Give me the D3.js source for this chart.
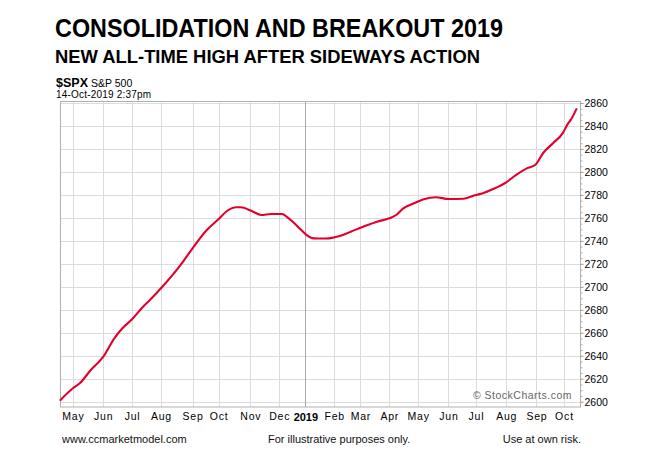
<!DOCTYPE html>
<html><head><meta charset="utf-8">
<script src="https://cdn.jsdelivr.net/npm/d3@7"></script>
<style>
html,body{margin:0;padding:0;background:#fff;}
svg{display:block;}
text{font-family:"Liberation Sans",Arial,sans-serif;}
</style></head>
<body>
<svg id="chart" width="668" height="459"></svg>
<script>
// ---- data ----
const title = "CONSOLIDATION AND BREAKOUT 2019";
const subtitle = "NEW ALL-TIME HIGH AFTER SIDEWAYS ACTION";
const symbol = "$SPX";
const symbolName = "S&P 500";
const stamp = "14-Oct-2019 2:37pm";
const footerLeft = "www.ccmarketmodel.com";
const footerMid = "For illustrative purposes only.";
const footerRight = "Use at own risk.";
const watermark = "\u00A9 StockCharts.com";

const holidays = ["2018-05-28","2018-07-04","2018-09-03","2018-11-22","2018-12-05","2018-12-25",
  "2019-01-01","2019-01-21","2019-02-18","2019-04-19","2019-05-27","2019-07-04","2019-09-02"];
const rangeStart = "2018-04-18", rangeEnd = "2019-10-17";

const dates = ["2018-04-18","2018-05-01","2018-05-08","2018-05-18","2018-06-01","2018-06-13","2018-06-21",
  "2018-07-02","2018-07-13","2018-07-20","2018-08-01","2018-08-23","2018-09-04","2018-09-18","2018-10-01",
  "2018-10-09","2018-10-18","2018-10-23","2018-11-02","2018-11-13","2018-11-23","2018-12-06","2018-12-12",
  "2018-12-19","2018-12-27","2019-01-03","2019-01-10","2019-01-24","2019-02-07","2019-02-20","2019-03-05",
  "2019-03-19","2019-04-01","2019-04-08","2019-04-15","2019-04-26","2019-05-07","2019-05-20","2019-06-03",
  "2019-06-18","2019-07-01","2019-07-09","2019-07-18","2019-08-01","2019-08-12","2019-08-22","2019-08-30",
  "2019-09-10","2019-09-19","2019-09-30","2019-10-04","2019-10-08","2019-10-14"];
const values = [2601.5,2611.7,2616,2627.6,2639,2655,2664,
  2671.7,2682.7,2688.5,2698.7,2721.8,2733.5,2749,2759,
  2766,2769.2,2769.2,2766,2762.5,2763.4,2763.4,2760.5,
  2755.3,2749.4,2745,2742.2,2742,2744.2,2748,2752.3,
  2756.7,2759.6,2762.5,2768,2772.7,2776.2,2778,2776.4,
  2776.7,2779.9,2781.4,2784.9,2791,2797.3,2803.1,2806,
  2816.7,2825,2833.6,2842.3,2845.5,2854.7];
const yTicks = [2600,2620,2640,2660,2680,2700,2720,2740,2760,2780,2800,2820,2840,2860];
const monthNames = ["Jan","Feb","Mar","Apr","May","Jun","Jul","Aug","Sep","Oct","Nov","Dec"];

// ---- trading calendar ----
const parse = d3.utcParse("%Y-%m-%d");
const fmt = d3.utcFormat("%Y-%m-%d");
const hol = new Set(holidays);
const days = d3.utcDay.range(parse(rangeStart), d3.utcDay.offset(parse(rangeEnd),1))
  .filter(d => d.getUTCDay()!==0 && d.getUTCDay()!==6 && !hol.has(fmt(d)));
const idxOf = new Map(days.map((d,i)=>[fmt(d),i]));

const monthStarts = [];
days.forEach((d,i)=>{
  if(i>0 && days[i-1].getUTCMonth()!==d.getUTCMonth()) monthStarts.push(i);
});

// ---- layout ----
const svg = d3.select("#chart");
const L=60.5, R=580.5, T=101.5, B=407;
const x = d3.scaleLinear().domain([0, days.length-1]).range([L, R]);
const y = d3.scaleLinear().domain([2595.4, 2861.3]).range([B, T]);

const g = svg.append("g");
g.selectAll("line.hg").data(yTicks).join("line")
  .attr("x1",L).attr("x2",R).attr("y1",d=>Math.round(y(d))+0.5).attr("y2",d=>Math.round(y(d))+0.5)
  .attr("stroke","#dcdcdc").attr("stroke-width",1);
g.selectAll("line.vg").data(monthStarts).join("line")
  .attr("x1",d=>Math.round(x(d))+0.5).attr("x2",d=>Math.round(x(d))+0.5).attr("y1",T).attr("y2",B)
  .attr("stroke",d=>days[d].getUTCMonth()===0?"#a8a8a8":"#dcdcdc").attr("stroke-width",1);

svg.append("rect").attr("x",L).attr("y",T).attr("width",R-L).attr("height",B-T)
  .attr("fill","none").attr("stroke","#b0b0b0").attr("stroke-width",1);

const minor = d3.range(2600, 2861, 5).filter(v=>v%20!==0);
svg.append("g").attr("transform",`translate(${R},0)`)
  .call(d3.axisRight(y).tickValues(minor).tickSize(2).tickFormat(""))
  .call(a=>a.select(".domain").remove())
  .call(a=>a.selectAll("line").attr("stroke","#b0b0b0"));
svg.append("g").attr("transform",`translate(${R},0)`)
  .call(d3.axisRight(y).tickValues(yTicks).tickSize(3).tickPadding(1).tickFormat(d3.format("d")))
  .call(a=>a.select(".domain").remove())
  .call(a=>a.selectAll("line").attr("stroke","#999"))
  .call(a=>a.selectAll("text").attr("font-size","10.5px").attr("fill","#000")
     .attr("font-family","'Liberation Sans',Arial,sans-serif"));

svg.append("g").attr("transform",`translate(0,${B})`)
  .call(d3.axisBottom(x).tickValues(monthStarts).tickSize(0).tickPadding(6)
    .tickFormat(i=>{const m=days[i].getUTCMonth(); return m===0? String(days[i].getUTCFullYear()) : monthNames[m];}))
  .call(a=>a.select(".domain").remove())
  .call(a=>a.selectAll("text").attr("fill","#000")
     .attr("font-family","'Liberation Sans',Arial,sans-serif")
     .attr("letter-spacing",i=>days[i].getUTCMonth()===0?"0px":"0.8px")
     .attr("font-weight",i=>days[i].getUTCMonth()===0?"bold":"normal")
     .attr("font-size",i=>days[i].getUTCMonth()===0?"11px":"10.5px"));

svg.append("text").attr("x",572).attr("y",398.5).attr("text-anchor","end")
  .attr("font-size","10.5px").attr("fill","#666").attr("letter-spacing","0.5px").text(watermark);

const pts = dates.map((d,i)=>({i: idxOf.get(d), v: values[i]}));
svg.append("path").datum(pts)
  .attr("fill","none").attr("stroke","#e3002b").attr("stroke-width",2.1)
  .attr("stroke-linejoin","round").attr("stroke-linecap","round")
  .attr("d", d3.line().x(d=>x(d.i)).y(d=>y(d.v)).curve(d3.curveMonotoneX));

svg.append("text").attr("x",55).attr("y",37).attr("font-size","26px").attr("font-weight","900")
  .attr("font-family","Lato,'Open Sans',sans-serif").attr("textLength",448).attr("lengthAdjust","spacingAndGlyphs")
  .attr("fill","#000").text(title);
svg.append("text").attr("x",55).attr("y",63.3).attr("font-size","18.5px").attr("font-weight","900")
  .attr("font-family","Lato,'Open Sans',sans-serif").attr("textLength",425).attr("lengthAdjust","spacingAndGlyphs")
  .attr("fill","#000").text(subtitle);

const hdr = svg.append("text").attr("x",56).attr("y",86.7);
hdr.append("tspan").attr("font-size","12.5px").attr("font-weight","bold").text(symbol);
hdr.append("tspan").attr("dx",3).attr("font-size","10.5px").text(symbolName);
svg.append("text").attr("x",56).attr("y",97.5).attr("font-size","10px").attr("letter-spacing","0.2px").text(stamp);

svg.append("text").attr("x",62).attr("y",443).attr("font-size","11px").attr("fill","#111").text(footerLeft);
svg.append("text").attr("x",268).attr("y",443).attr("font-size","11px").attr("fill","#111").text(footerMid);
svg.append("text").attr("x",581).attr("y",443).attr("text-anchor","end").attr("font-size","11px").attr("fill","#111").text(footerRight);
</script>
</body></html>
